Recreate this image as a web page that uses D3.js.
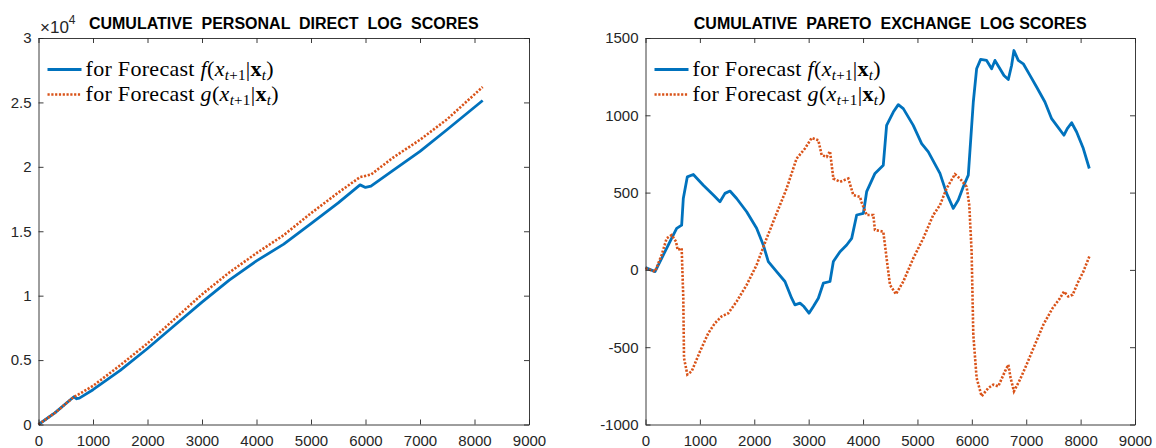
<!DOCTYPE html>
<html>
<head>
<meta charset="utf-8">
<script src="https://cdn.jsdelivr.net/npm/d3@7"></script>
<style>
  body { margin: 0; background: #fff; }
  svg { display: block; }
</style>
</head>
<body>
<svg id="chart" width="1156" height="448"></svg>
<script>
// data
const xTicks = [0, 1000, 2000, 3000, 4000, 5000, 6000, 7000, 8000, 9000]
const personalTicks = [0, 5000, 10000, 15000, 20000, 25000, 30000]
const paretoTicks = [-1000, -500, 0, 500, 1000, 1500]

const personalF = [[0, 0], [300, 900], [650, 2150], [700, 2000], [750, 2050], [1000, 2700], [1500, 4200],
  [2000, 5900], [2500, 7700], [3000, 9500], [3500, 11200], [4000, 12700], [4500, 14000], [5000, 15600],
  [5500, 17200], [5900, 18600], [6000, 18400], [6100, 18500], [6500, 19700], [7000, 21200], [7500, 22900], [8150, 25150]]

const personalG = [[0, 0], [300, 900], [650, 2150], [700, 2250], [1000, 3000], [1500, 4600], [2000, 6300],
  [2500, 8200], [3000, 10100], [3500, 11800], [4000, 13300], [4500, 14700], [5000, 16400], [5500, 18000],
  [5900, 19200], [6100, 19400], [6500, 20700], [7000, 22100], [7500, 23700], [8150, 26200]]

const paretoF = [[0, 15], [175, -11], [297, 75], [450, 183], [573, 269], [665, 290], [695, 462], [769, 602],
  [879, 617], [1063, 548], [1247, 484], [1369, 441], [1461, 495], [1553, 510], [1676, 462], [1860, 376],
  [2043, 269], [2166, 161], [2258, 54], [2411, -11], [2564, -75], [2687, -183], [2748, -226], [2840, -215],
  [2913, -237], [3006, -280], [3086, -237], [3178, -183], [3270, -86], [3392, -75], [3454, 54], [3576, 118],
  [3699, 161], [3791, 204], [3883, 355], [4006, 366], [4066, 506], [4219, 624], [4372, 677], [4433, 935],
  [4556, 1021], [4648, 1069], [4740, 1043], [4923, 935], [5077, 817], [5200, 763], [5414, 624], [5536, 495],
  [5659, 398], [5751, 452], [5843, 538], [5935, 613], [6027, 1086], [6088, 1301], [6162, 1362], [6272, 1355],
  [6364, 1301], [6425, 1355], [6517, 1301], [6591, 1258], [6671, 1232], [6731, 1322], [6774, 1419],
  [6854, 1355], [6946, 1333], [7069, 1258], [7191, 1183], [7344, 1086], [7467, 978], [7559, 935],
  [7694, 871], [7755, 914], [7835, 952], [7927, 892], [8050, 785], [8160, 656]]

const paretoG = [[0, 10], [175, -11], [297, 97], [389, 204], [481, 226], [561, 183], [591, 129], [665, 140],
  [695, -183], [708, -570], [769, -677], [848, -656], [1002, -527], [1155, -409], [1278, -344], [1400, -301],
  [1523, -280], [1676, -204], [1860, -97], [2043, 32], [2227, 204], [2411, 366], [2595, 527], [2778, 720],
  [2932, 785], [3055, 854], [3178, 839], [3239, 742], [3331, 731], [3392, 768], [3454, 591], [3576, 570],
  [3729, 591], [3821, 484], [3944, 473], [3970, 440], [4066, 355], [4188, 355], [4219, 258], [4372, 247],
  [4464, -11], [4495, -97], [4605, -157], [4740, -75], [4923, 75], [5107, 204], [5291, 355], [5414, 419],
  [5536, 527], [5689, 619], [5781, 591], [5904, 538], [5953, 419], [5996, 118], [6027, -419], [6088, -699],
  [6180, -817], [6303, -764], [6395, -742], [6487, -753], [6609, -656], [6671, -613], [6713, -699],
  [6774, -785], [6885, -710], [7007, -613], [7160, -484], [7314, -355], [7485, -247], [7620, -183],
  [7694, -140], [7774, -172], [7854, -161], [7958, -75], [8050, -11], [8160, 86]]

const legendLabels = ['f', 'g']

const SVG = d3.select("#chart")
const Top = 38
const Bottom = 424.5
const axisColor = "#262626"
const blue = "#0072BD"
const orange = "#D95319"
const tickFont = "'Liberation Sans', Arial, Helvetica, sans-serif"

function drawPanel(left, right, yDomain, yTicks, yFormat, title, series) {
    const xscale = d3.scaleLinear().domain([0, 9000]).range([left, right])
    const yscale = d3.scaleLinear().domain(yDomain).range([Bottom, Top])

    const g = SVG.append("g")

    // lines first, axes drawn on top
    const line = d3.line().x(d => xscale(d[0])).y(d => yscale(d[1]))

    g.append("path")
        .datum(series[0])
        .attr("d", line)
        .attr("fill", "none")
        .attr("stroke", blue)
        .attr("stroke-width", 2.8)
        .attr("stroke-linejoin", "round")

    g.append("path")
        .datum(series[1])
        .attr("d", line)
        .attr("fill", "none")
        .attr("stroke", orange)
        .attr("stroke-width", 2.6)
        .attr("stroke-dasharray", "2.2,1.6")

    const bottom = d3.axisBottom(xscale).tickValues(xTicks).tickSizeInner(-5).tickSizeOuter(0).tickPadding(11).tickFormat(d3.format("d"))
    const upper = d3.axisTop(xscale).tickValues(xTicks).tickSizeInner(-5).tickSizeOuter(0).tickFormat("")
    const leftAxis = d3.axisLeft(yscale).tickValues(yTicks).tickSizeInner(-5).tickSizeOuter(0).tickPadding(7).tickFormat(yFormat)
    const rightAxis = d3.axisRight(yscale).tickValues(yTicks).tickSizeInner(-5).tickSizeOuter(0).tickFormat("")

    const axes = [
        g.append("g").attr("transform", `translate(0, ${Bottom})`).call(bottom),
        g.append("g").attr("transform", `translate(0, ${Top})`).call(upper),
        g.append("g").attr("transform", `translate(${left}, 0)`).call(leftAxis),
        g.append("g").attr("transform", `translate(${right}, 0)`).call(rightAxis)
    ]
    axes.forEach(a => {
        a.selectAll("path, line").attr("stroke", axisColor).attr("stroke-width", 0.9)
        a.selectAll("text")
            .attr("fill", axisColor)
            .style("font-family", tickFont)
            .style("font-size", "15px")
    })

    g.append("text")
        .text(title)
        .attr("x", (left + right) / 2)
        .attr("y", 29)
        .attr("text-anchor", "middle")
        .style("font-family", tickFont)
        .style("font-weight", "bold")
        .style("font-size", "16px")
        .style("white-space", "pre")
        .attr("fill", "#000")

    // legend
    legendLabels.forEach((name, i) => {
        const ly = 69.5 + i * 25
        const lx = left + 9
        const l = g.append("line")
            .attr("x1", lx).attr("x2", lx + 34)
            .attr("y1", ly).attr("y2", ly)
            .attr("stroke", i == 0 ? blue : orange)
            .attr("stroke-width", i == 0 ? 2.8 : 2.6)
        if (i == 1) l.attr("stroke-dasharray", "2.2,1.6")

        const t = g.append("text")
            .attr("x", lx + 38)
            .attr("y", ly + 6.5)
            .style("font-family", "'Liberation Serif', 'DejaVu Serif', serif")
            .style("font-size", "22px")
            .style("letter-spacing", "0.3px")
            .attr("fill", "#000")
        t.append("tspan").text("for Forecast ")
        t.append("tspan").style("font-style", "italic").text(name)
        t.append("tspan").text("(")
        t.append("tspan").style("font-style", "italic").text("x")
        t.append("tspan").style("font-style", "italic").style("font-size", "15px").attr("dy", 4).text("t")
        t.append("tspan").style("font-size", "15px").text("+1")
        t.append("tspan").attr("dy", -4).text("|")
        t.append("tspan").style("font-weight", "bold").text("x")
        t.append("tspan").style("font-style", "italic").style("font-size", "15px").attr("dy", 4).text("t")
        t.append("tspan").attr("dy", -4).text(")")
    })

    return g
}

const leftPanel = drawPanel(38.5, 529, [0, 30000], personalTicks, d => d / 10000,
    "CUMULATIVE  PERSONAL  DIRECT  LOG  SCORES", [personalF, personalG])

// exponent label of the left y axis
const expo = leftPanel.append("text")
    .attr("x", 40)
    .attr("y", 33)
    .style("font-family", tickFont)
    .style("font-size", "17px")
    .attr("fill", axisColor)
expo.append("tspan").text("\u00d710")
expo.append("tspan").attr("dy", -9).style("font-size", "12px").text("4")

drawPanel(645.5, 1135, [-1000, 1500], paretoTicks, d => d,
    "CUMULATIVE  PARETO  EXCHANGE  LOG SCORES", [paretoF, paretoG])
</script>
</body>
</html>
